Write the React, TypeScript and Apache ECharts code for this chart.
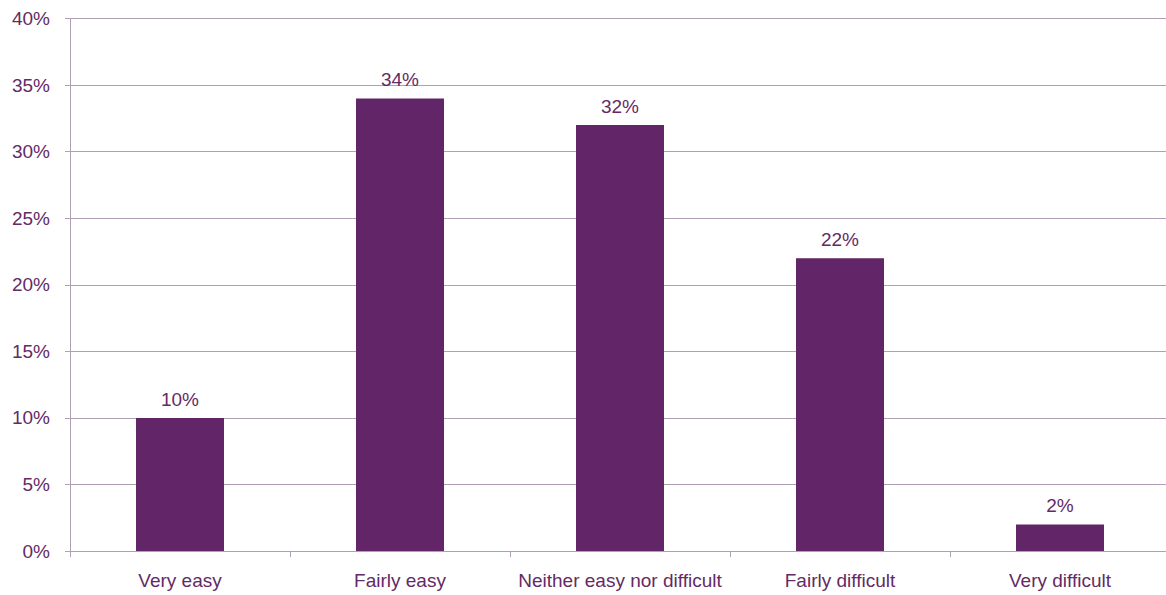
import React, { useEffect, useRef } from "react";
import * as echarts from "echarts";

const categories = ["Very easy", "Fairly easy", "Neither easy nor difficult", "Fairly difficult", "Very difficult"];
const values = [10, 34, 32, 22, 2];

const TEXT = "#642a66";
const LINE = "#b09fb5";
const BAR = "#622567";
const FONT = "Liberation Sans, Arial, sans-serif";

export default function App() {
  const ref = useRef<HTMLDivElement>(null);
  useEffect(() => {
    document.body.style.margin = "0";
    document.body.style.overflow = "hidden";
    const chart = echarts.init(ref.current!, null, { renderer: "svg" });
    chart.setOption({
      animation: false,
      grid: { left: 70, right: 0, top: 18.5, bottom: 44, containLabel: false },
      xAxis: {
        type: "category",
        data: categories,
        axisLine: { lineStyle: { color: LINE, width: 1 } },
        axisTick: { show: true, length: 6, lineStyle: { color: LINE } },
        axisLabel: { color: TEXT, fontSize: 19, fontFamily: FONT, margin: 20, interval: 0 },
      },
      yAxis: {
        type: "value",
        min: 0,
        max: 40,
        interval: 5,
        axisLine: { show: true, lineStyle: { color: LINE, width: 1 } },
        axisTick: { show: true, length: 5, lineStyle: { color: LINE } },
        splitLine: { lineStyle: { color: LINE, width: 1 } },
        axisLabel: { color: TEXT, fontSize: 19, fontFamily: FONT, margin: 20, formatter: "{value}%" },
      },
      series: [
        {
          type: "bar",
          data: values,
          barWidth: 88,
          itemStyle: { color: BAR },
          label: {
            show: true,
            position: "top",
            distance: 9,
            color: TEXT,
            fontSize: 19,
            fontFamily: FONT,
            formatter: "{c}%",
          },
        },
      ],
    });
    return () => chart.dispose();
  }, []);
  return <div ref={ref} style={{ position: "absolute", left: 0, top: 0, width: 1170, height: 595 }} />;
}
